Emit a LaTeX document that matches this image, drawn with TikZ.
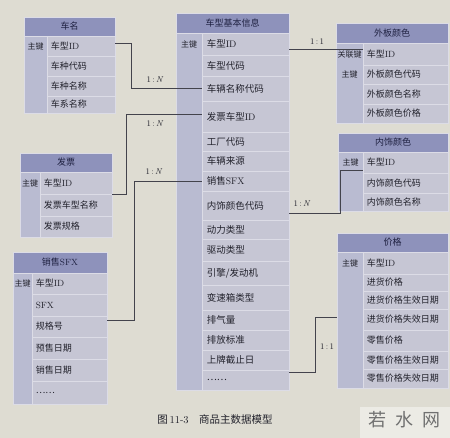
\documentclass[tikz,border=0pt]{standalone}
\usepackage{fontspec}
\newfontfamily\cjk{Noto Sans CJK SC}
\usetikzlibrary{fit}
\definecolor{bgc}{HTML}{DEDCD2}
\definecolor{titlefill}{HTML}{8E92BB}
\definecolor{rowfill}{HTML}{C6C6D4}
\definecolor{keyfill}{HTML}{B9BBD1}
\definecolor{sepcol}{HTML}{DCDCE6}
\definecolor{txt}{HTML}{22222C}
\definecolor{ttltxt}{HTML}{1E2040}
\definecolor{wmbox}{HTML}{ECEBE5}
\definecolor{wmtxt}{HTML}{707070}
\tikzset{
  ttlbox/.style={inner sep=0pt, fill=titlefill, draw=sepcol, line width=0.8pt},
  ttltext/.style={inner sep=0pt, font=\cjk\fontsize{9}{10}\selectfont, text=ttltxt},
  rowbox/.style={inner sep=0pt, fill=rowfill, draw=sepcol, line width=0.8pt},
  rowtext/.style={inner sep=0pt, font=\cjk\fontsize{9}{10}\selectfont, text=txt},
  mainrow/.style={font=\cjk\fontsize{9.5}{10.5}\selectfont},
  keybox/.style={inner sep=0pt, fill=keyfill, draw=sepcol, line width=0.8pt},
  keytext/.style={inner sep=0pt, font=\cjk\fontsize{8}{9}\selectfont, text=txt},
  conn/.style={draw=txt!85, line width=0.7pt},
  card/.style={inner sep=0pt, font=\fontsize{8.5}{9.5}\selectfont, text=txt},
}
\newcommand\ttl[6]{%
  \node[ttlbox, fit={(#2,#3) (#4,#5)}] (#1) {};
  \node[ttltext] (#1-t) at (#1.center) {#6};}
\newcommand\erow[6]{%
  \node[rowbox, fit={(#2,#3) (#4,#5)}] (#1) {};
  \node[rowtext, anchor=west] (#1-t) at ([xshift=4pt]#1.west) {#6};}
\newcommand\mrow[6]{%
  \node[rowbox, fit={(#2,#3) (#4,#5)}] (#1) {};
  \node[rowtext, mainrow, anchor=west] (#1-t) at ([xshift=5pt]#1.west) {#6};}
\newcommand\kcol[5]{%
  \node[keybox, fit={(#2,#3) (#4,#5)}] (#1) {};}
\newcommand\keylab[4]{%
  \node[keytext] (#1) at (#2.center |- #3.center) {#4};}
\begin{document}
\begin{tikzpicture}[x=1pt,y=-1pt]
\useasboundingbox (0,0) rectangle (450,438);
\fill[bgc] (0,0) rectangle (450,438);

% ---- 车名
\ttl{cm}{24}{17}{115}{36}{车名}
\kcol{cmk}{24}{36}{47}{113}
\erow{cm1}{47}{36}{115}{56}{车型{\rmfamily ID}}
\erow{cm2}{47}{56}{115}{76}{车种代码}
\erow{cm3}{47}{76}{115}{96}{车种名称}
\erow{cm4}{47}{96}{115}{113}{车系名称}
\keylab{cmk1}{cmk}{cm1}{主键}

% ---- 发票
\ttl{fp}{20}{153}{112}{172}{发票}
\kcol{fpk}{20}{172}{40}{237}
\erow{fp1}{40}{172}{112}{194}{车型{\rmfamily ID}}
\erow{fp2}{40}{194}{112}{216}{发票车型名称}
\erow{fp3}{40}{216}{112}{237}{发票规格}
\keylab{fpk1}{fpk}{fp1}{主键}

% ---- 销售SFX
\ttl{sx}{13}{252}{107}{273}{销售{\rmfamily SFX}}
\kcol{sxk}{13}{273}{32}{404}
\erow{sx1}{32}{273}{107}{294}{车型{\rmfamily ID}}
\erow{sx2}{32}{294}{107}{316}{\rmfamily SFX}
\erow{sx3}{32}{316}{107}{337}{规格号}
\erow{sx4}{32}{337}{107}{359}{预售日期}
\erow{sx5}{32}{359}{107}{381}{销售日期}
\erow{sx6}{32}{381}{107}{404}{……}
\keylab{sxk1}{sxk}{sx1}{主键}

% ---- 车型基本信息
\ttl{mt}{176}{13}{289}{33}{车型基本信息}
\kcol{mtk}{176}{33}{202}{390}
\mrow{mt1}{202}{33}{289}{55}{车型{\rmfamily ID}}
\mrow{mt2}{202}{55}{289}{76}{车型代码}
\mrow{mt3}{202}{76}{289}{101}{车辆名称代码}
\mrow{mt4}{202}{101}{289}{132}{发票车型{\rmfamily ID}}
\mrow{mt5}{202}{132}{289}{151}{工厂代码}
\mrow{mt6}{202}{151}{289}{171}{车辆来源}
\mrow{mt7}{202}{171}{289}{191}{销售{\rmfamily SFX}}
\mrow{mt8}{202}{191}{289}{220}{内饰颜色代码}
\mrow{mt9}{202}{220}{289}{239}{动力类型}
\mrow{mt10}{202}{239}{289}{261}{驱动类型}
\mrow{mt11}{202}{261}{289}{285}{引擎/发动机}
\mrow{mt12}{202}{285}{289}{310}{变速箱类型}
\mrow{mt13}{202}{310}{289}{330}{排气量}
\mrow{mt14}{202}{330}{289}{350}{排放标准}
\mrow{mt15}{202}{350}{289}{370}{上牌截止日}
\mrow{mt16}{202}{370}{289}{390}{……}
\keylab{mtk1}{mtk}{mt1}{主键}

% ---- 外板颜色
\ttl{wb}{336}{23}{448}{43}{外板颜色}
\kcol{wbk}{336}{43}{363}{123}
\erow{wb1}{363}{43}{448}{65}{车型{\rmfamily ID}}
\erow{wb2}{363}{65}{448}{84}{外板颜色代码}
\erow{wb3}{363}{84}{448}{104}{外板颜色名称}
\erow{wb4}{363}{104}{448}{123}{外板颜色价格}
\keylab{wbk1}{wbk}{wb1}{关联键}
\keylab{wbk2}{wbk}{wb2}{主键}

% ---- 内饰颜色
\ttl{ns}{338}{133}{448}{152}{内饰颜色}
\kcol{nsk}{338}{152}{363}{211}
\erow{ns1}{363}{152}{448}{173}{车型{\rmfamily ID}}
\erow{ns2}{363}{173}{448}{193}{内饰颜色代码}
\erow{ns3}{363}{193}{448}{211}{内饰颜色名称}
\keylab{nsk1}{nsk}{ns1}{主键}

% ---- 价格
\ttl{jg}{337}{233}{448}{252}{价格}
\kcol{jgk}{337}{252}{363}{388}
\erow{jg1}{363}{252}{448}{274}{车型{\rmfamily ID}}
\erow{jg2}{363}{274}{448}{291}{进货价格}
\erow{jg3}{363}{291}{448}{309}{进货价格生效日期}
\erow{jg4}{363}{309}{448}{330}{进货价格失效日期}
\erow{jg5}{363}{330}{448}{351}{零售价格}
\erow{jg6}{363}{351}{448}{369}{零售价格生效日期}
\erow{jg7}{363}{369}{448}{388}{零售价格失效日期}
\keylab{jgk1}{jgk}{jg1}{主键}

% ---- connectors
\draw[conn] (cm1.east |- 0,43) -- ++(16,0) |- (mt3.west);
\node[card] (c1) at (155,80) {1\,:\,\textit{N}};
\draw[conn] (fp1.south east) -- ++(14,0) |- (mt4.west |- 0,114);
\node[card] (c2) at (155,124) {1\,:\,\textit{N}};
\draw[conn] (sx2.south east |- 0,320) -- ++(27,0) |- (mt7.west);
\node[card] (c3) at (154,172) {1\,:\,\textit{N}};
\draw[conn] (mt1.east |- 0,49) -- (wb1.west |- 0,49);
\node[card] (c4) at (317,42) {1\,:\,1};
\draw[conn] (ns1.west |- 0,170) -- ++(-22,0) |- (mt8.east |- 0,213);
\node[card] (c5) at (302,204) {1\,:\,\textit{N}};
\draw[conn] (jg4.west -| jgk.west) ++(0,-2) coordinate (p6) -- ++(-21,0) |- (mt15.east |- 0,372);
\node[card] (c6) at (327,347) {1\,:\,1};

% ---- caption and mark
\node[inner sep=0pt, font=\cjk\fontsize{10.5}{12}\selectfont, text=txt] (cap) at (215,420) {图\,{\rmfamily 11-3}\quad 商品主数据模型};
\node[fill=wmbox, inner sep=0pt, fit={(360,407) (450,438)}] (wm) {};
\node[inner sep=0pt, font=\cjk\fontsize{18}{20}\selectfont, text=wmtxt] (wmt) at (404,420) {若\hspace{9pt}水\hspace{9pt}网};
\end{tikzpicture}
\end{document}
